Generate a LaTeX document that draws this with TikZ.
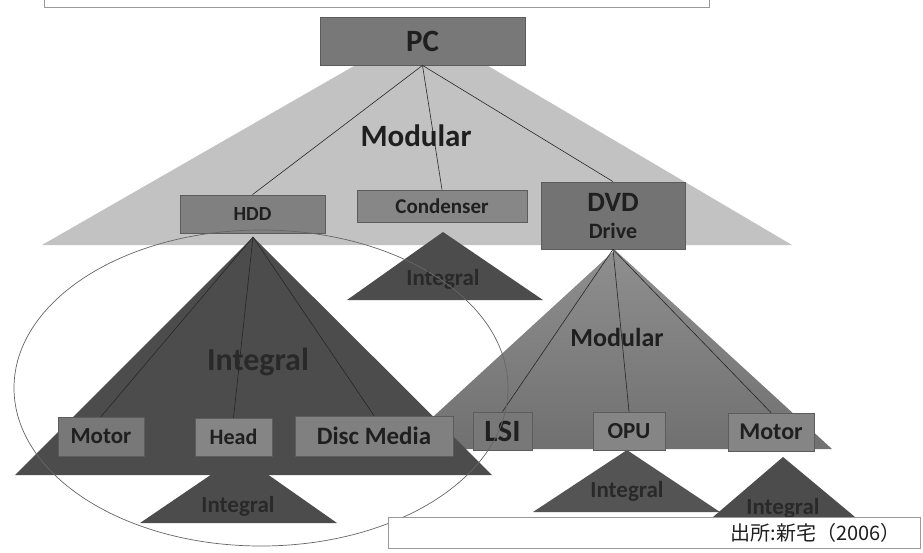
\documentclass[tikz,border=0pt]{standalone}
\usepackage{fontspec}
\setmainfont{Carlito}
\newfontfamily\cjk{Noto Sans CJK JP}
\definecolor{lighttri}{gray}{0.76}
\definecolor{darktri}{gray}{0.30}
\definecolor{dvdtop}{gray}{0.56}
\definecolor{dvdbot}{gray}{0.44}
\definecolor{opuint}{gray}{0.33}
\definecolor{pcbox}{gray}{0.47}
\definecolor{hddbox}{gray}{0.50}
\definecolor{condbox}{gray}{0.53}
\definecolor{dvdbox}{gray}{0.45}
\definecolor{boxA}{gray}{0.47}
\definecolor{boxB}{gray}{0.52}
\definecolor{txt}{gray}{0.12}
\definecolor{inttxt}{gray}{0.16}
\definecolor{edge}{gray}{0.36}
\definecolor{ell}{gray}{0.40}
\definecolor{capedge}{gray}{0.60}
\tikzset{
  box/.style={draw=edge, line width=0.8pt, inner sep=0pt, text=txt, align=center},
  link/.style={draw=black!85, line width=0.6pt},
  fs/.style={font=\fontsize{#1}{#1}\selectfont},
  fsb/.style={font=\fontsize{#1}{#1}\selectfont\bfseries},
}
\begin{document}
\begin{tikzpicture}[x=1pt,y=-1pt]
\useasboundingbox (0,0) rectangle (923,552);
\fill[white] (0,0) rectangle (923,552);
% top strip
\draw[capedge, fill=white, line width=0.8pt] (44,-3) rectangle (709,7);
% big light triangle
\fill[lighttri] (422,27) -- (42,245) -- (792,245) -- cycle;
% first level boxes
\node[box, fill=pcbox, minimum width=205pt, minimum height=48pt, fsb=31] (pc) at (422.5,41) {PC};
\node[box, fill=hddbox, minimum width=145pt, minimum height=38pt, fsb=20] (hdd) at (252.5,214) {HDD};
\node[box, fill=condbox, minimum width=170pt, minimum height=32pt, fsb=21] (cond) at (442,206) {Condenser};
\node[box, fill=dvdbox, minimum width=144pt, minimum height=67pt] (dvd) at (613,215.5) {};
\node[fsb=28, text=txt] (dvdt1) at (613,202) {DVD};
\node[fsb=22, text=txt] (dvdt2) at (613,231) {Drive};
\draw[link] (pc.south) -- (hdd.north);
\draw[link] (pc.south) -- (cond.north);
\draw[link] (pc.south) -- (dvd.north);
\node[fsb=31, text=txt] (mod1) at (416,136) {Modular};
% condenser integral
\fill[darktri] (443,232) -- (347,300) -- (543,300) -- cycle;
\node[fsb=23, text=inttxt] (int2) at (443,279) {Integral};
% DVD modular triangle
\shade[top color=dvdtop, bottom color=dvdbot] (615,250) -- (398,449) -- (832,449) -- cycle;
\node[fsb=26, text=txt] (mod2) at (617,337) {Modular};
% DVD children
\node[box, fill=boxA, minimum width=59pt, minimum height=38pt, fsb=31] (lsi) at (502.5,431) {LSI};
\node[box, fill=boxB, minimum width=72pt, minimum height=38pt, fsb=23] (opu) at (629,431) {OPU};
\node[box, fill=boxB, minimum width=86pt, minimum height=38pt, fsb=24] (motorb) at (771,432) {Motor};
\draw[link] (dvd.south) -- (lsi.north);
\draw[link] (dvd.south) -- (opu.north);
\draw[link] (dvd.south) -- (motorb.north);
% OPU / Motor integral
\fill[opuint] (627,450) -- (533,512) -- (720,512) -- cycle;
\node[fsb=23, text=inttxt] (int4) at (627,491) {Integral};
\fill[darktri] (783,457) -- (713,517) -- (855,517) -- cycle;
\node[fsb=23, text=inttxt] (int5) at (783,508) {Integral};
% Head integral
\fill[darktri] (240,455) -- (140,523) -- (337,523) -- cycle;
\node[fsb=23, text=inttxt] (int3) at (238,506) {Integral};
% HDD big integral triangle
\coordinate (hddapex) at (253,237);
\fill[darktri] (hddapex) -- (15,475) -- (492,475) -- cycle;
\node[fsb=32, text=inttxt] (int1) at (258,362) {Integral};
% HDD children
\node[box, fill=boxA, minimum width=86pt, minimum height=39pt, fsb=23] (motora) at (101,436.5) {Motor};
\node[box, fill=boxB, minimum width=77pt, minimum height=38pt, fsb=22] (head) at (233.5,437) {Head};
\node[box, fill=hddbox, minimum width=158pt, minimum height=40pt, fsb=25] (disc) at (374,436) {Disc Media};
\draw[link] (hddapex) -- (motora.north);
\draw[link] (hddapex) -- (head.north);
\draw[link] (hddapex) -- (disc.north);
% ellipse
\draw[ell, line width=0.7pt] (261,388) ellipse [x radius=247pt, y radius=158pt];
% caption
\node[draw=capedge, fill=white, line width=0.8pt, minimum width=532pt, minimum height=31pt, inner sep=0pt] (cap) at (654,532.5) {};
\node[anchor=east, text=txt, font=\cjk\fontsize{20}{20}\selectfont] (captext) at ([xshift=-16pt]cap.east) {出所:新宅（2006）};
\end{tikzpicture}
\end{document}
